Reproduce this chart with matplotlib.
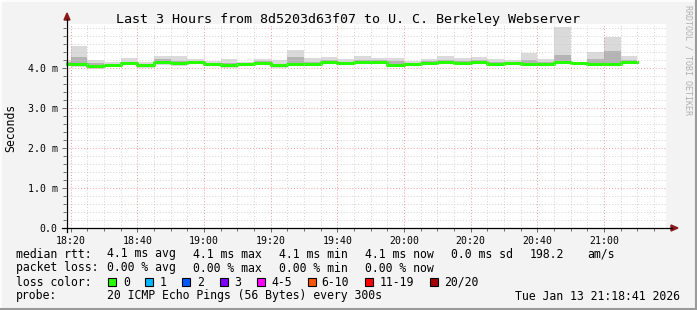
import datetime as dt
import matplotlib
matplotlib.use("Agg")
import matplotlib.pyplot as plt
import matplotlib.dates as mdates
from matplotlib.ticker import MultipleLocator, FixedLocator, FuncFormatter
from matplotlib.patches import Rectangle, Polygon
from matplotlib.lines import Line2D

# 5 minute bins, start times
bin_times = ["18:15", "18:20", "18:25", "18:30", "18:35", "18:40", "18:45",
             "18:50", "18:55", "19:00", "19:05", "19:10", "19:15", "19:20",
             "19:25", "19:30", "19:35", "19:40", "19:45", "19:50", "19:55",
             "20:00", "20:05", "20:10", "20:15", "20:20", "20:25", "20:30",
             "20:35", "20:40", "20:45", "20:50", "20:55", "21:00", "21:05"]

# rtt in ms
median_rtt = [4.09, 4.09, 4.06, 4.07, 4.12, 4.075, 4.14, 4.13, 4.14, 4.09,
              4.075, 4.09, 4.13, 4.07, 4.10, 4.10, 4.14, 4.12, 4.14, 4.15,
              4.07, 4.10, 4.13, 4.14, 4.12, 4.15, 4.11, 4.13, 4.11, 4.11,
              4.16, 4.13, 4.11, 4.11, 4.14]
ping_max = [4.20, 4.55, 4.19, 4.16, 4.24, 4.15, 4.30, 4.30, 4.23, 4.18,
            4.22, 4.16, 4.22, 4.20, 4.45, 4.25, 4.28, 4.23, 4.29, 4.26,
            4.25, 4.18, 4.22, 4.30, 4.26, 4.28, 4.22, 4.21, 4.37, 4.22,
            5.02, 4.15, 4.41, 4.78, 4.30]
ping_hi = [4.14, 4.27, 4.12, 4.10, 4.16, 4.10, 4.22, 4.18, 4.17, 4.13,
           4.13, 4.12, 4.17, 4.11, 4.27, 4.15, 4.20, 4.16, 4.20, 4.21,
           4.17, 4.13, 4.17, 4.19, 4.17, 4.20, 4.15, 4.16, 4.20, 4.15,
           4.33, 4.14, 4.22, 4.42, 4.19]
ping_lo = [4.06, 4.05, 4.02, 4.04, 4.09, 4.03, 4.10, 4.08, 4.11, 4.06,
           4.04, 4.06, 4.10, 4.03, 4.07, 4.07, 4.11, 4.09, 4.11, 4.12,
           4.04, 4.07, 4.10, 4.11, 4.09, 4.12, 4.08, 4.10, 4.08, 4.08,
           4.13, 4.11, 4.08, 4.08, 4.11]
ping_min = [4.04, 4.03, 3.98, 4.02, 4.07, 4.00, 4.08, 4.06, 4.09, 4.04,
            4.01, 4.04, 4.08, 4.01, 4.05, 4.05, 4.09, 4.07, 4.09, 4.10,
            4.02, 4.05, 4.08, 4.09, 4.07, 4.09, 4.06, 4.08, 4.06, 4.06,
            4.11, 4.10, 4.06, 4.06, 4.09]

y_labels_at = [0, 1, 2, 3, 4]

loss_labels = ["0", "1", "2", "3", "4-5", "6-10", "11-19", "20/20"]
loss_colors = ["#26ff00", "#00b8ff", "#0059ff", "#7e00ff", "#ff00ff",
               "#ff5500", "#ff0000", "#a10000"]

W, H = 697, 310
MONO = "DejaVu Sans Mono"


def fx(px):
    return px / W


def fy(py):
    return 1 - py / H


day = dt.date(2026, 1, 13)
times = [dt.datetime.combine(day, dt.datetime.strptime(t, "%H:%M").time()) for t in bin_times]
edges = times + [times[-1] + dt.timedelta(minutes=5)]


def ext(v):
    return v + [v[-1]]


fig = plt.figure(figsize=(W / 100, H / 100), dpi=100, facecolor="#f3f3f3")
ax = fig.add_axes([fx(66.2), fy(228), 600 / W, (228 - 24) / H])
ax.set_facecolor("white")

ax.fill_between(edges, ext(ping_min), ext(ping_max), step="post", color="#dadada", lw=0)
ax.fill_between(edges, ext(ping_lo), ext(ping_hi), step="post", color="#b4b4b4", lw=0)
ax.step(edges, ext(median_rtt), where="post", color="#26ff00", lw=2.2)

t0 = dt.datetime(2026, 1, 13, 18, 18, 41)
ax.set_xlim(t0, t0 + dt.timedelta(hours=3))
ax.set_ylim(0, 5.1)

ax.xaxis.set_major_locator(mdates.MinuteLocator(byminute=[0, 20, 40]))
ax.xaxis.set_minor_locator(mdates.MinuteLocator(byminute=range(0, 60, 5)))
ax.xaxis.set_major_formatter(mdates.DateFormatter("%H:%M"))
ax.yaxis.set_major_locator(FixedLocator(y_labels_at))
ax.yaxis.set_minor_locator(MultipleLocator(0.2))
ax.yaxis.set_major_formatter(FuncFormatter(lambda v, p: "0.0" if v == 0 else f"{v:.1f} m"))

ax.set_axisbelow(False)
ax.grid(which="minor", color="#c8c8c8", lw=0.7, ls=(0, (1, 2)), alpha=0.8)
ax.grid(which="major", color="#f08080", lw=0.7, ls=(0, (1, 2)), alpha=0.8)

ax.tick_params(which="both", direction="out", color="#555555", width=0.6)
ax.tick_params(which="major", length=3, pad=3)
ax.tick_params(which="minor", length=2)
for lab in ax.get_xticklabels() + ax.get_yticklabels():
    lab.set_fontfamily(MONO)
    lab.set_fontsize(7.1)
for s in ax.spines.values():
    s.set_visible(False)

# axis lines with arrows
fig.add_artist(Line2D([fx(62), fx(672)], [fy(228), fy(228)], color="black", lw=0.9))
fig.add_artist(Line2D([fx(67), fx(67)], [fy(232), fy(19)], color="black", lw=0.9))
fig.add_artist(Polygon([[fx(671), fy(225)], [fx(671), fy(231)], [fx(678), fy(228)]],
                       closed=True, color="#8b1a1a"))
fig.add_artist(Polygon([[fx(64), fy(20)], [fx(70), fy(20)], [fx(67), fy(13)]],
                       closed=True, color="#8b1a1a"))

fig.text(fx(348), fy(19), "Last 3 Hours from 8d5203d63f07 to U. C. Berkeley Webserver",
         family=MONO, fontsize=9.6, ha="center", va="center")
fig.text(fx(11), fy(128), "Seconds", family=MONO, fontsize=8.3, rotation=90,
         ha="center", va="center")
fig.text(fx(688), fy(5), "RRDTOOL / TOBI OETIKER", family=MONO, fontsize=6,
         rotation=270, ha="center", va="top", color="#b0b0b0")

# legend rows
fs = 8.3
rows = [
    (254, [(16, "median rtt:"), (107, "4.1 ms avg"), (193, "4.1 ms max"),
           (279, "4.1 ms min"), (365, "4.1 ms now"), (451, "0.0 ms sd"),
           (530, "198.2"), (587, "am/s")]),
    (268, [(16, "packet loss:"), (107, "0.00 % avg"), (193, "0.00 % max"),
           (279, "0.00 % min"), (365, "0.00 % now")]),
    (282, [(16, "loss color:")]),
    (296, [(16, "probe:"), (107, "20 ICMP Echo Pings (56 Bytes) every 300s")]),
]
for y, items in rows:
    for x, s in items:
        fig.text(fx(x), fy(y), s, family=MONO, fontsize=fs, ha="left", va="center")
fig.text(fx(680), fy(296), "Tue Jan 13 21:18:41 2026", family=MONO, fontsize=fs,
         ha="right", va="center")

box_x = [108, 145, 182, 219.5, 256.5, 307.5, 365, 430]
text_x = [123.5, 160, 197, 234, 271, 321, 380, 444]
for bx, tx, lab, col in zip(box_x, text_x, loss_labels, loss_colors):
    fig.add_artist(Rectangle((fx(bx), fy(286)), 8 / W, 8 / H, facecolor=col,
                             edgecolor="black", lw=0.8))
    fig.text(fx(tx), fy(282), lab, family=MONO, fontsize=fs, ha="left", va="center")

# 3d frame
fig.add_artist(Line2D([0, 1], [fy(0.5), fy(0.5)], color="white", lw=1.2))
fig.add_artist(Line2D([fx(0.5), fx(0.5)], [0, 1], color="white", lw=1.2))
fig.add_artist(Line2D([0, 1], [fy(309), fy(309)], color="#9a9a9a", lw=1.5))
fig.add_artist(Line2D([fx(696), fx(696)], [0, 1], color="#9a9a9a", lw=1.5))

fig.savefig("out.png", dpi=100, facecolor=fig.get_facecolor())
